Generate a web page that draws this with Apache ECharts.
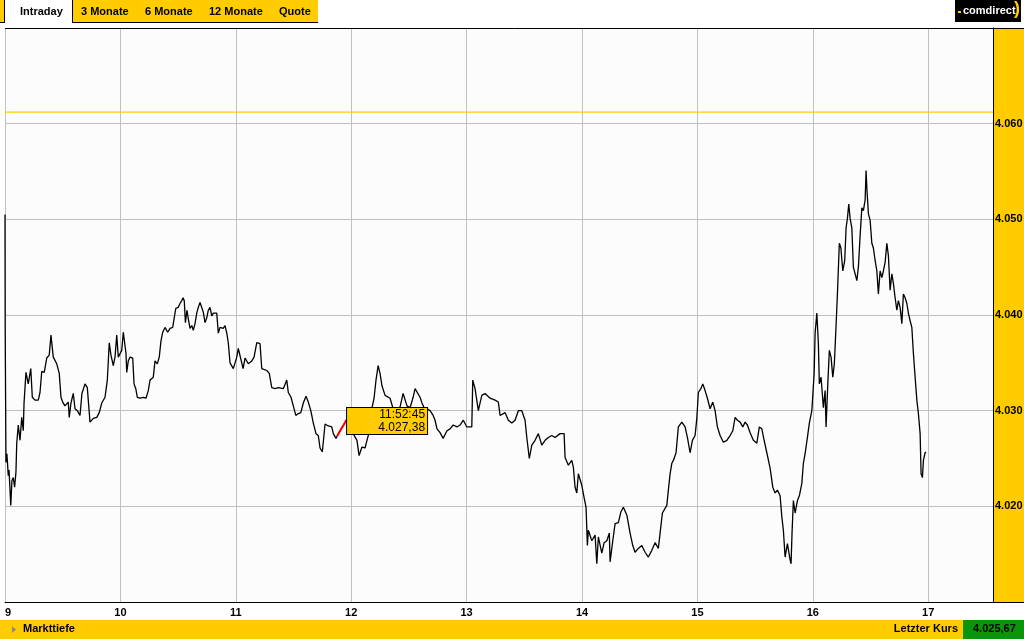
<!DOCTYPE html>
<html>
<head>
<meta charset="utf-8">
<script src="https://cdn.jsdelivr.net/npm/echarts@6/dist/echarts.min.js"></script>
<style>
html,body{margin:0;padding:0;background:#fff;}
#chart{width:1024px;height:643px;}
</style>
</head>
<body>
<div id="chart"></div>
<script>
// Minutes after 09:00 and index level
var minutes = [
0.0,0.1,0.5,1.0,1.7,2.1,3.0,3.6,4.3,5.0,
5.7,6.1,6.9,7.8,8.7,9.5,9.9,10.9,12.1,13.4,
14.2,15.6,17.3,18.2,19.1,20.4,21.7,23.0,23.9,25.1,
26.9,28.2,29.1,30.0,31.2,32.9,33.4,34.3,35.5,36.4,
37.6,39.0,40.0,41.6,42.8,43.3,44.2,45.9,47.7,49.0,
50.3,52.0,53.2,54.2,55.1,56.3,57.2,58.1,58.9,59.8,
60.7,61.5,62.4,62.9,63.3,64.1,65.0,66.4,67.1,68.0,
68.8,70.2,71.9,73.3,74.5,75.4,77.1,78.0,79.2,80.2,
81.1,82.0,83.2,84.6,85.8,87.2,87.9,88.8,90.1,91.0,
91.9,92.6,93.2,93.8,94.6,95.3,96.2,97.1,97.9,98.8,
99.7,100.5,101.4,102.3,103.1,104.0,104.9,105.7,106.6,107.5,
108.3,109.2,110.1,110.9,111.8,112.7,113.5,114.4,115.3,116.1,
117.0,118.7,120.5,121.3,122.2,123.8,124.8,126.5,128.3,129.5,
130.9,132.6,133.5,136.1,137.4,138.7,140.4,142.1,144.7,146.5,
147.3,148.7,149.9,151.2,152.5,153.8,155.1,156.5,157.7,159.0,
160.3,161.7,162.9,163.8,165.0,166.4,168.1,169.9,170.7,172.1,
172.75,174.2,177.8,179.4,181.0,183.0,184.1,185.6,187.2,188.2,
189.3,190.3,190.8,191.9,192.9,194.0,195.0,196.0,197.6,198.6,
200.2,201.8,203.8,205.4,207.0,209.0,210.6,212.2,213.2,214.2,
215.8,216.8,217.9,219.4,221.0,222.0,222.6,223.6,224.6,226.2,
227.8,229.8,231.4,233.0,235.0,236.6,238.3,240.1,242.7,243.2,
244.4,246.1,247.9,249.6,252.2,254.8,256.5,257.4,260.0,261.7,
263.5,265.2,266.9,268.7,270.4,271.3,272.6,273.9,275.6,277.3,
279.1,280.8,282.5,284.3,286.0,288.6,290.7,291.2,292.9,294.7,
295.5,296.4,297.3,298.1,299.9,301.1,302.1,302.8,303.3,305.1,
306.8,307.7,308.5,310.3,311.5,312.9,314.2,314.6,316.0,317.2,
318.9,320.2,321.5,323.3,325.0,326.4,327.6,329.3,331.1,332.8,
334.5,336.3,338.0,339.7,340.6,341.8,344.1,344.9,345.8,346.7,
347.5,348.9,350.1,351.9,353.6,354.8,356.2,357.4,358.8,359.7,
360.5,361.8,362.8,364.0,365.2,366.6,368.0,369.2,370.4,371.8,
373.5,375.3,377.0,378.4,379.6,380.8,382.2,383.6,384.8,386.0,
387.4,389.1,390.9,392.2,393.5,394.7,396.1,397.8,399.2,400.4,
401.6,403.0,403.9,404.7,405.6,406.8,408.2,408.7,409.2,409.9,
410.8,412.0,413.0,414.3,415.1,416.0,417.2,418.2,419.5,420.7,
421.2,422.1,422.9,423.4,424.3,425.5,426.4,426.9,427.8,428.6,
429.5,430.4,431.2,432.1,432.8,433.8,434.6,435.6,436.6,437.3,
438.0,438.7,439.4,440.3,441.1,442.0,442.9,443.7,444.6,445.5,
446.3,447.2,447.7,448.1,448.9,449.8,450.7,451.5,452.4,453.3,
454.1,455.0,455.9,456.7,457.6,458.5,459.3,460.2,461.1,461.9,
462.8,463.7,464.5,465.4,466.3,467.1,468.0,468.9,469.7,470.6,
471.5,472.3,473.2,474.1,474.9,475.8,476.3,477.0,477.5,478.4,478.9
];
var prices = [
4050.5,4038.6,4024.6,4025.5,4023.2,4023.8,4020.1,4022.7,4023.0,4022.0,
4023.6,4026.6,4028.5,4026.9,4029.3,4027.9,4030.8,4034.0,4032.8,4034.4,
4031.4,4031.1,4031.1,4031.9,4034.1,4034.0,4035.5,4035.8,4037.9,4035.6,
4034.9,4033.9,4031.4,4030.9,4030.5,4030.9,4029.3,4030.8,4031.8,4030.2,
4030.0,4029.5,4031.8,4032.8,4032.4,4031.1,4028.8,4029.2,4029.3,4029.8,
4030.8,4031.4,4033.2,4037.1,4035.8,4034.7,4035.6,4037.9,4035.6,4035.8,
4036.3,4038.2,4038.1,4036.0,4034.0,4035.2,4035.6,4035.5,4032.8,4032.3,
4031.4,4031.3,4031.4,4031.3,4032.1,4033.2,4033.5,4035.2,4034.9,4035.6,
4037.3,4038.2,4038.7,4038.2,4038.6,4038.7,4039.6,4040.7,4040.8,4041.2,
4041.5,4041.8,4041.5,4039.2,4040.5,4039.6,4038.6,4038.9,4038.4,4039.1,
4040.2,4040.8,4041.3,4041.5,4040.3,4039.2,4039.7,4040.5,4040.8,4039.9,
4040.2,4040.3,4040.2,4038.1,4038.7,4038.9,4038.6,4038.9,4038.1,4037.1,
4035.0,4034.4,4035.6,4036.5,4036.3,4034.4,4035.5,4034.9,4035.2,4035.6,
4037.1,4037.0,4034.4,4034.2,4033.9,4032.4,4032.3,4032.4,4032.3,4033.2,
4031.9,4031.4,4030.5,4029.5,4029.7,4029.8,4030.8,4031.5,4030.9,4030.0,
4028.7,4027.6,4027.4,4026.1,4025.7,4028.6,4028.4,4028.3,4027.6,4027.1,
4027.38,4027.9,4029.1,4028.5,4027.6,4026.9,4025.3,4026.2,4026.1,4026.9,
4027.7,4029.5,4030.3,4031.3,4033.2,4034.7,4033.9,4032.6,4031.6,4031.8,
4031.3,4030.2,4030.0,4030.4,4031.8,4030.5,4030.3,4031.4,4032.3,4032.1,
4031.4,4030.8,4030.3,4030.2,4030.0,4030.2,4029.5,4029.0,4028.1,4027.7,
4027.1,4027.9,4028.1,4028.5,4028.3,4028.5,4029.0,4028.3,4028.3,4033.2,
4032.3,4030.0,4031.6,4031.8,4031.3,4031.1,4030.9,4029.5,4029.8,4029.0,
4028.7,4029.0,4030.0,4030.0,4029.0,4027.2,4025.0,4026.4,4026.9,4027.6,
4026.4,4026.9,4027.2,4027.4,4027.2,4027.6,4027.6,4025.1,4024.3,4024.8,
4024.1,4022.0,4021.4,4023.4,4022.2,4020.9,4019.9,4015.9,4017.5,4016.4,
4017.0,4014.0,4016.8,4015.1,4016.2,4016.4,4017.2,4014.2,4016.4,4018.2,
4018.3,4019.4,4019.9,4019.1,4017.2,4015.9,4015.2,4015.6,4015.9,4015.2,
4014.7,4015.4,4016.2,4015.6,4017.2,4019.3,4020.1,4021.7,4023.4,4024.5,
4024.8,4025.6,4028.3,4028.8,4028.3,4027.2,4025.6,4026.9,4027.4,4029.2,
4031.9,4032.3,4032.8,4032.1,4031.3,4030.2,4030.9,4030.0,4028.3,4027.4,
4026.7,4026.9,4027.4,4027.9,4029.3,4029.0,4028.8,4028.3,4028.8,4028.5,
4027.7,4026.9,4026.6,4028.3,4028.1,4026.9,4025.6,4024.0,4022.0,4021.4,
4021.7,4021.1,4018.9,4017.5,4014.7,4016.1,4014.4,4014.0,4017.2,4020.6,
4019.3,4020.6,4021.1,4022.4,4024.5,4025.5,4027.2,4028.7,4030.0,4033.9,
4038.1,4040.2,4037.0,4032.8,4033.5,4030.3,4032.1,4028.3,4032.8,4036.3,
4035.6,4033.5,4034.9,4038.9,4042.2,4047.5,4047.0,4044.6,4045.7,4049.1,
4050.1,4051.6,4050.1,4049.1,4045.0,4044.3,4043.6,4045.0,4048.3,4051.2,
4050.9,4052.0,4055.1,4053.3,4050.6,4049.9,4047.5,4047.0,4045.7,4044.6,
4042.2,4044.6,4043.9,4044.6,4045.5,4047.5,4046.2,4042.6,4044.3,4043.3,
4041.8,4040.5,4041.5,4040.8,4039.1,4042.2,4041.8,4041.2,4040.2,4039.4,
4038.7,4036.0,4033.5,4031.1,4029.7,4027.6,4023.4,4023.0,4024.8,4025.6,4025.67
];
// Hovered segment (red) and tooltip point
var hoverMinutes = [172.75, 177.8];
var hoverPrices = [4027.38, 4029.1];
var tooltipTime = "11:52:45";
var tooltipPrice = "4.027,38";
var referenceLevel = 4061.2;
var lastPrice = "4.025,67";
var tabs = ["Intraday", "3 Monate", "6 Monate", "12 Monate", "Quote"];
var xTicks = [9, 10, 11, 12, 13, 14, 15, 16, 17];

var YELLOW = '#FFCC00';
var FONT = '"Liberation Sans", Arial, sans-serif';
var X_MAX = 9 + 988 / 115.4;

var mainData = minutes.map(function (m, i) { return [9 + m / 60, prices[i]]; });
var hoverData = hoverMinutes.map(function (m, i) { return [9 + m / 60, hoverPrices[i]]; });
var refData = [[9, referenceLevel], [X_MAX, referenceLevel]];

function fmtY(v) {
  if (v <= 4010 || v >= 4070) return '';
  var s = String(Math.round(v));
  return s.charAt(0) + '.' + s.slice(1);
}

var chart = echarts.init(document.getElementById('chart'), null, { renderer: 'canvas' });

var graphics = [
  // tab bar
  { type: 'rect', z: -10, shape: { x: 0, y: 0, width: 4, height: 22 }, style: { fill: YELLOW } },
  { type: 'line', z: -9, shape: { x1: 4.5, y1: 0, x2: 4.5, y2: 23 }, style: { stroke: '#000', lineWidth: 1 } },
  { type: 'line', z: -9, shape: { x1: 0, y1: 22.5, x2: 4.5, y2: 22.5 }, style: { stroke: '#000', lineWidth: 1 } },
  { type: 'rect', z: -10, shape: { x: 72, y: 0, width: 246, height: 22 }, style: { fill: YELLOW } },
  { type: 'line', z: -9, shape: { x1: 72.5, y1: 0, x2: 72.5, y2: 23 }, style: { stroke: '#000', lineWidth: 1 } },
  { type: 'line', z: -9, shape: { x1: 72, y1: 22.5, x2: 318, y2: 22.5 }, style: { stroke: '#000', lineWidth: 1 } },
  { type: 'text', z: 5, left: 20, top: 6, style: { text: tabs[0], fill: '#000', font: 'bold 11px ' + FONT } },
  { type: 'text', z: 5, left: 81, top: 6, style: { text: tabs[1], fill: '#000', font: 'bold 11px ' + FONT } },
  { type: 'text', z: 5, left: 145, top: 6, style: { text: tabs[2], fill: '#000', font: 'bold 11px ' + FONT } },
  { type: 'text', z: 5, left: 209, top: 6, style: { text: tabs[3], fill: '#000', font: 'bold 11px ' + FONT } },
  { type: 'text', z: 5, left: 279, top: 6, style: { text: tabs[4], fill: '#000', font: 'bold 11px ' + FONT } },
  // logo
  { type: 'rect', z: -10, shape: { x: 955, y: 0, width: 66, height: 22 }, style: { fill: '#000' } },
  { type: 'rect', z: 5, shape: { x: 958, y: 11, width: 3, height: 2 }, style: { fill: YELLOW } },
  { type: 'text', z: 5, left: 963, top: 5, style: { text: 'comdirect', fill: '#fff', font: 'bold 11px ' + FONT } },
  { type: 'text', z: 5, left: 1014, top: 0, style: { text: ')', fill: YELLOW, font: 'bold 18px ' + FONT } },
  // plot frame
  { type: 'line', z: 5, shape: { x1: 5, y1: 28.5, x2: 1024, y2: 28.5 }, style: { stroke: '#000', lineWidth: 1 } },
  { type: 'rect', z: -10, shape: { x: 993, y: 28, width: 31, height: 574 }, style: { fill: YELLOW } },
  { type: 'line', z: 5, shape: { x1: 993, y1: 602.5, x2: 1024, y2: 602.5 }, style: { stroke: '#000', lineWidth: 1 } },
  // bottom bar
  { type: 'rect', z: -10, shape: { x: 0, y: 620, width: 963, height: 19 }, style: { fill: YELLOW } },
  { type: 'rect', z: -10, shape: { x: 963, y: 620, width: 61, height: 19 }, style: { fill: '#0A960A' } },
  { type: 'polygon', z: 5, shape: { points: [[12, 626], [16, 629.5], [12, 633]] }, style: { fill: '#8a8a8a' } },
  { type: 'text', z: 5, left: 23, top: 623, style: { text: 'Markttiefe', fill: '#000', font: 'bold 11px ' + FONT } },
  { type: 'text', z: 5, right: 66, top: 623, style: { text: 'Letzter Kurs', fill: '#000', font: 'bold 11px ' + FONT } },
  { type: 'text', z: 5, left: 973, top: 623, style: { text: lastPrice, fill: '#000', font: 'bold 11px ' + FONT } }
];

var option = {
  animation: false,
  backgroundColor: '#ffffff',
  grid: { left: 5, top: 28, width: 988, height: 574, outerBoundsMode: 'none', containLabel: false,
          show: true, backgroundColor: '#fcfcfc', borderWidth: 0 },
  xAxis: {
    type: 'value', min: 9, max: X_MAX, interval: 1,
    axisLine: { show: true, onZero: false, lineStyle: { color: '#000', width: 1 } },
    axisTick: { show: false },
    splitLine: { show: true, lineStyle: { color: '#c0c0c0', width: 1 } },
    axisLabel: {
      margin: 5, color: '#000', fontWeight: 'bold', fontSize: 11, fontFamily: FONT,
      alignMinLabel: 'left', showMaxLabel: false,
      formatter: function (v) { return xTicks.indexOf(Math.round(v * 1000) / 1000) >= 0 ? String(v) : ''; }
    }
  },
  yAxis: {
    type: 'value', position: 'right', min: 4010, max: 4070, interval: 10,
    axisLine: { show: true, onZero: false, lineStyle: { color: '#000', width: 1 } },
    axisTick: { show: false },
    splitLine: { show: true, lineStyle: { color: '#c0c0c0', width: 1 } },
    axisLabel: { margin: 2, color: '#000', fontWeight: 'bold', fontSize: 11, fontFamily: FONT,
                 showMinLabel: false, showMaxLabel: false, formatter: fmtY }
  },
  graphic: graphics,
  series: [
    {
      type: 'line', data: refData, showSymbol: false, symbol: 'none', silent: true,
      lineStyle: { color: YELLOW, width: 1.2, opacity: 1 }, z: 2
    },
    {
      type: 'line', data: mainData, showSymbol: false, symbol: 'none', silent: true,
      lineStyle: { color: '#000', width: 1.3 }, z: 3
    },
    {
      type: 'line', data: hoverData, showSymbol: false, symbol: 'none', silent: true,
      lineStyle: { color: '#ff0000', width: 2 }, z: 4,
      markPoint: {
        silent: true, symbol: 'rect', symbolSize: 1,
        itemStyle: { color: 'rgba(0,0,0,0)' },
        label: {
          show: true, position: [90.3, -27.2], align: 'right', verticalAlign: 'top',
          width: 76, padding: [0, 2, 0, 2], lineHeight: 13,
          backgroundColor: YELLOW, borderColor: '#000', borderWidth: 1,
          color: '#000', fontSize: 12, fontFamily: FONT,
          formatter: tooltipTime + '\n' + tooltipPrice
        },
        data: [{ coord: hoverData[0] }]
      }
    }
  ]
};
chart.setOption(option);
</script>
</body>
</html>
